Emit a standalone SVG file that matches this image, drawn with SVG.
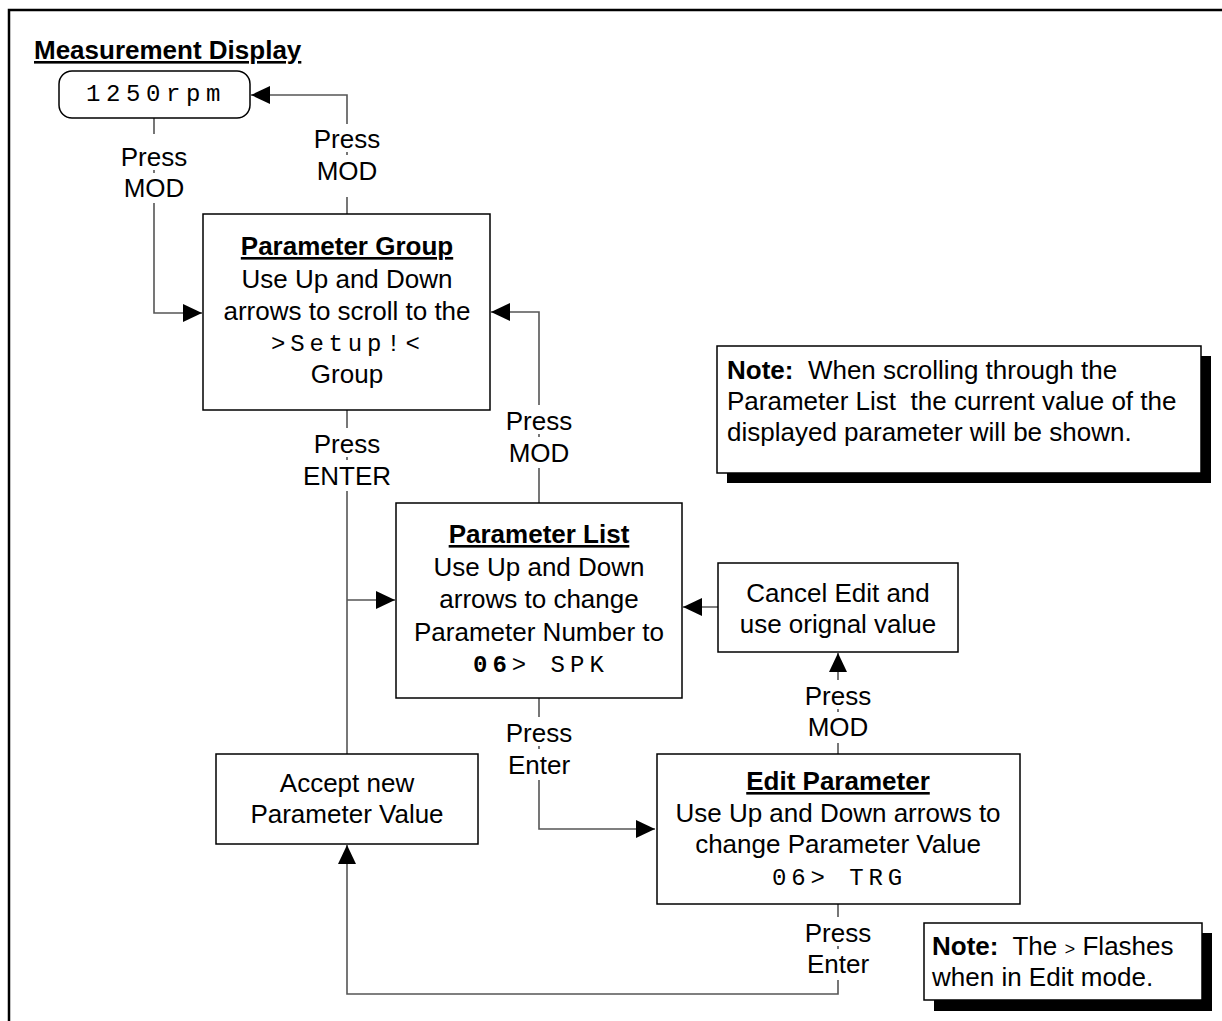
<svg xmlns="http://www.w3.org/2000/svg" width="1222" height="1021" viewBox="0 0 1222 1021">
<defs>
<style>
.t{font-family:"Liberation Sans",Arial,sans-serif;font-size:26px;fill:#000;text-anchor:middle}
.b{font-weight:bold}
.u{text-decoration:underline}
.m{font-family:"Liberation Mono","Courier New",monospace;font-size:24px;fill:#000;letter-spacing:5px}
.box{fill:#fff;stroke:#000;stroke-width:1.5}
.sh{fill:#000}
.c{fill:none;stroke:#555;stroke-width:1.6}
.bg{fill:#fff}
</style>
<marker id="ah" markerUnits="userSpaceOnUse" markerWidth="20" markerHeight="18" refX="19" refY="9" orient="auto">
<path d="M0,0 L19,9 L0,18 Z" fill="#000"/>
</marker>
</defs>
<rect width="1222" height="1021" fill="#fff"/>
<rect x="9" y="10" width="1240" height="1040" fill="none" stroke="#000" stroke-width="2.5"/>
<text class="t b u" x="34" y="59" style="text-anchor:start">Measurement Display</text>

<g id="connectors">
<path class="c" d="M154,118 V313 H202" marker-end="url(#ah)"/>
<path class="c" d="M347,214 V95 H251" marker-end="url(#ah)"/>
<path class="c" d="M347,410 V754"/>
<path class="c" d="M347,600 H395" marker-end="url(#ah)"/>
<path class="c" d="M539,503 V312 H491" marker-end="url(#ah)"/>
<path class="c" d="M539,698 V829 H655" marker-end="url(#ah)"/>
<path class="c" d="M838,754 V653" marker-end="url(#ah)"/>
<path class="c" d="M718,607 H683" marker-end="url(#ah)"/>
<path class="c" d="M838,904 V994 H347 V845" marker-end="url(#ah)"/>
</g>

<g id="labels">
<g id="lbl-mod1">
<rect class="bg" x="118" y="134" width="72" height="36"/>
<rect class="bg" x="118" y="173" width="72" height="30"/>
<text class="t" x="154" y="166">Press</text>
<text class="t" x="154" y="197">MOD</text>
</g>
<g id="lbl-mod2">
<rect class="bg" x="311" y="124" width="72" height="28"/>
<rect class="bg" x="311" y="155" width="72" height="42"/>
<text class="t" x="347" y="148">Press</text>
<text class="t" x="347" y="180">MOD</text>
</g>
<g id="lbl-enter1">
<rect class="bg" x="300" y="428" width="94" height="29"/>
<rect class="bg" x="300" y="460" width="94" height="31"/>
<text class="t" x="347" y="453">Press</text>
<text class="t" x="347" y="485">ENTER</text>
</g>
<g id="lbl-mod3">
<rect class="bg" x="503" y="405" width="72" height="29"/>
<rect class="bg" x="503" y="437" width="72" height="31"/>
<text class="t" x="539" y="430">Press</text>
<text class="t" x="539" y="462">MOD</text>
</g>
<g id="lbl-enter2">
<rect class="bg" x="503" y="717" width="72" height="29"/>
<rect class="bg" x="503" y="749" width="72" height="31"/>
<text class="t" x="539" y="742">Press</text>
<text class="t" x="539" y="774">Enter</text>
</g>
<g id="lbl-mod4">
<rect class="bg" x="802" y="680" width="72" height="29"/>
<rect class="bg" x="802" y="712" width="72" height="31"/>
<text class="t" x="838" y="705">Press</text>
<text class="t" x="838" y="736">MOD</text>
</g>
<g id="lbl-enter3">
<rect class="bg" x="802" y="917" width="72" height="29"/>
<rect class="bg" x="802" y="949" width="72" height="31"/>
<text class="t" x="838" y="942">Press</text>
<text class="t" x="838" y="973">Enter</text>
</g>
</g>

<g id="node-display">
<rect class="box" x="59" y="71" width="191" height="47" rx="13"/>
<text class="m" x="86" y="101" style="letter-spacing:5.6px">1250rpm</text>
</g>

<g id="node-group">
<rect class="box" x="203" y="214" width="287" height="196"/>
<text class="t b u" x="347" y="255">Parameter Group</text>
<text class="t" x="347" y="288">Use Up and Down</text>
<text class="t" x="347" y="320">arrows to scroll to the</text>
<text class="m" x="271" y="351" style="letter-spacing:4.8px">&gt;Setup!&lt;</text>
<text class="t" x="347" y="383">Group</text>
</g>

<g id="node-list">
<rect class="box" x="396" y="503" width="286" height="195"/>
<text class="t b u" x="539" y="543">Parameter List</text>
<text class="t" x="539" y="576">Use Up and Down</text>
<text class="t" x="539" y="608">arrows to change</text>
<text class="t" x="539" y="641">Parameter Number to</text>
<text class="m" x="473" y="672" xml:space="preserve"><tspan font-weight="bold">06</tspan>&gt; SPK</text>
</g>

<g id="node-cancel">
<rect class="box" x="718" y="563" width="240" height="89"/>
<text class="t" x="838" y="602">Cancel Edit and</text>
<text class="t" x="838" y="633">use orignal value</text>
</g>

<g id="node-accept">
<rect class="box" x="216" y="754" width="262" height="90"/>
<text class="t" x="347" y="792">Accept new</text>
<text class="t" x="347" y="823">Parameter Value</text>
</g>

<g id="node-edit">
<rect class="box" x="657" y="754" width="363" height="150"/>
<text class="t b u" x="838" y="790">Edit Parameter</text>
<text class="t" x="838" y="822">Use Up and Down arrows to</text>
<text class="t" x="838" y="853">change Parameter Value</text>
<text class="m" x="772" y="885" xml:space="preserve" style="letter-spacing:4.9px">06&gt; TRG</text>
</g>

<g id="note1">
<rect class="sh" x="727" y="356" width="484" height="127"/>
<rect class="box" x="717" y="346" width="484" height="127"/>
<text class="t" x="727" y="379" style="text-anchor:start" xml:space="preserve"><tspan font-weight="bold">Note:</tspan>  When scrolling through the</text>
<text class="t" x="727" y="410" style="text-anchor:start" xml:space="preserve">Parameter List  the current value of the</text>
<text class="t" x="727" y="441" style="text-anchor:start">displayed parameter will be shown.</text>
</g>

<g id="note2">
<rect class="sh" x="934" y="933" width="278" height="78"/>
<rect class="box" x="924" y="923" width="278" height="77"/>
<text class="t" x="932" y="955" style="text-anchor:start" xml:space="preserve"><tspan font-weight="bold">Note:</tspan>  The <tspan font-family="Liberation Mono, monospace" font-size="18">&gt;</tspan> Flashes</text>
<text class="t" x="932" y="986" style="text-anchor:start">when in Edit mode.</text>
</g>
</svg>
